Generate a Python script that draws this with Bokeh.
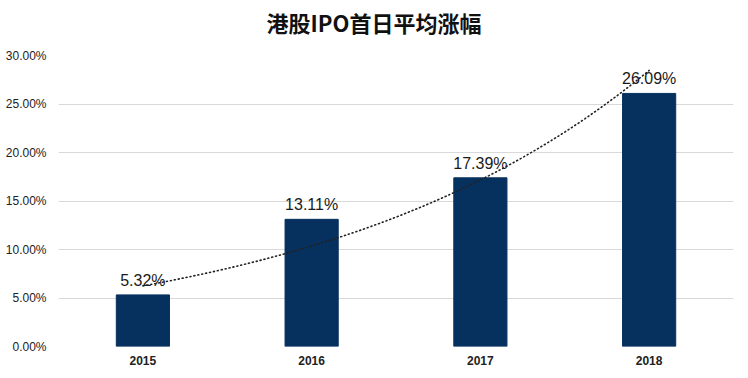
import numpy as np
from bokeh.plotting import figure
from bokeh.models import FactorRange, Range1d, FixedTicker, ColumnDataSource, Div
from bokeh.layouts import column
from bokeh.embed import file_html
from bokeh.resources import INLINE
from bokeh.core.properties import value

# ---- data ----
title_text = "港股IPO首日平均涨幅"
years = ["2015", "2016", "2017", "2018"]
avg_rise = [5.32, 13.11, 17.39, 26.09]          # percent
y_ticks = [0, 5, 10, 15, 20, 25, 30]
y_tick_labels = ["0.00%", "5.00%", "10.00%", "15.00%", "20.00%", "25.00%", "30.00%"]
value_labels = ["5.32%", "13.11%", "17.39%", "26.09%"]

BAR_COLOR = "#06305e"

title_div = Div(
    text=('<div style="width:748px;height:45px;line-height:45px;text-align:center;'
          'font-family:\'Noto Sans CJK SC\';font-size:22px;font-weight:bold;'
          'color:#111111;">' + title_text + '</div>'),
    width=748, height=45, margin=0,
)

p = figure(
    width=748, height=333,
    x_range=FactorRange(*years, range_padding=0),
    y_range=Range1d(0, 30),
    output_backend="svg", toolbar_location=None,
    min_border_left=58, min_border_right=15, min_border_top=10, min_border_bottom=32,
    margin=0,
)
p.outline_line_color = None
p.background_fill_color = "white"
p.border_fill_color = "white"

# bars
src = ColumnDataSource(dict(x=years, top=avg_rise, lab=value_labels))
p.vbar(x="x", top="top", width=0.315, source=src, color=BAR_COLOR)

# value labels
p.text(x="x", y="top", text="lab", source=src, text_align="center",
       text_baseline="bottom", y_offset=-6, text_font=value("Liberation Sans"),
       text_font_size="16px", text_color="#1a1a1a")

# exponential trendline (least squares fit of log values, as in a spreadsheet)
idx = np.arange(len(avg_rise))
b, a = np.polyfit(idx, np.log(avg_rise), 1)
tx = np.linspace(0, len(avg_rise) - 1, 80)
ty = np.exp(a + b * tx)
p.line(x=tx + 0.5, y=ty, line_color="#222222", line_width=1.6, line_dash="1 3",
       line_cap="round")

# axes
p.yaxis.ticker = FixedTicker(ticks=y_ticks)
p.yaxis.major_label_overrides = {t: l for t, l in zip(y_ticks, y_tick_labels)}
p.yaxis.axis_line_color = None
p.yaxis.major_tick_line_color = None
p.yaxis.minor_tick_line_color = None
p.yaxis.major_label_standoff = 6
p.yaxis.major_label_text_font = "Liberation Sans"
p.yaxis.major_label_text_font_size = "12px"
p.yaxis.major_label_text_color = "#222222"

p.xaxis.axis_line_color = None
p.xaxis.major_tick_line_color = None
p.xaxis.minor_tick_line_color = None
p.xaxis.major_label_standoff = 3
p.xaxis.major_label_text_font = "Liberation Sans"
p.xaxis.major_label_text_font_size = "12px"
p.xaxis.major_label_text_font_style = "bold"
p.xaxis.major_label_text_color = "#222222"

p.xgrid.grid_line_color = None
p.ygrid.grid_line_color = "#d9d9d9"
p.ygrid.grid_line_width = 1

layout = column(title_div, p, spacing=0)
open("out.html", "w").write(file_html(layout, INLINE))
